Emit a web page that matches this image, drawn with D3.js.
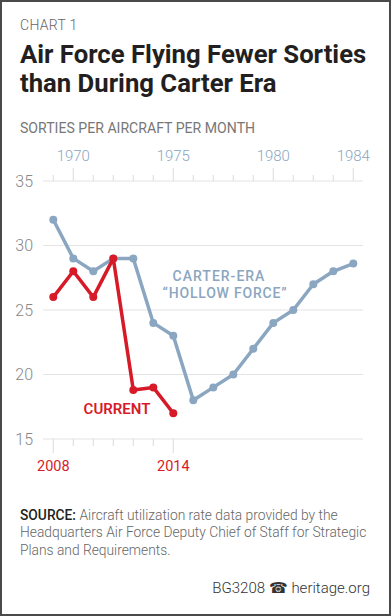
<html>
<head>
<meta charset="utf-8">
<style>
    body { margin: 0; background: #fff; font-family: Roboto, "Open Sans", sans-serif; }
    svg { display: block; }
</style>
</head>
<body>
<svg id="Chart"></svg>
<script src="https://d3js.org/d3.v7.min.js"></script>
<script>
    // values
    let carterYears = [1969, 1970, 1971, 1972, 1973, 1974, 1975, 1976, 1977, 1978, 1979, 1980, 1981, 1982, 1983, 1984];
    let carterValues = [32, 29, 28, 29, 29, 24, 23, 18, 19, 20, 22, 24, 25, 27, 28, 28.6];
    let currentYears = [2008, 2009, 2010, 2011, 2012, 2013, 2014];
    let currentValues = [26, 28, 26, 29, 18.8, 19, 17];
    let yTicks = [15, 20, 25, 30, 35];
    let topLabels = [1970, 1975, 1980, 1984];
    let bottomLabels = [2008, 2014];

    const blue = "#8ba6c0";
    const red = "#d71a28";

    let width = 391, height = 616;
    let svg = d3.select("#Chart").attr("width", width).attr("height", height);

    // frame
    svg.append("rect").attr("x", 1).attr("y", 1).attr("width", width - 2).attr("height", height - 2)
        .attr("fill", "#fff").attr("stroke", "#4a4a4a").attr("stroke-width", 2);

    // headings
    svg.append("text").attr("x", 20).attr("y", 30).text("CHART 1")
        .attr("font-size", 14).attr("font-weight", 300).attr("fill", "#666").attr("letter-spacing", 0.3);
    svg.append("text").attr("x", 20).attr("y", 63).text("Air Force Flying Fewer Sorties")
        .attr("font-size", 25.7).attr("font-weight", 700).attr("fill", "#231f20");
    svg.append("text").attr("x", 20).attr("y", 92).text("than During Carter Era")
        .attr("font-size", 25.7).attr("font-weight", 700).attr("fill", "#231f20");
    svg.append("text").attr("x", 20).attr("y", 133).text("SORTIES PER AIRCRAFT PER MONTH")
        .attr("font-size", 14.1).attr("font-weight", 400).attr("fill", "#777");

    // scales
    let y = d3.scaleLinear().domain([15, 35]).range([439, 181]);
    let xTop = d3.scaleLinear().domain([1969, 1984]).range([53.3, 353.3]);
    let xBottom = d3.scaleLinear().domain([2008, 2023]).range([53.3, 353.3]);
    let gridX = [43, 363];

    // gridlines + y labels
    let grid = svg.append("g");
    grid.selectAll("line").data(yTicks).enter().append("line")
        .attr("x1", gridX[0]).attr("x2", gridX[1])
        .attr("y1", d => y(d)).attr("y2", d => y(d))
        .attr("stroke", "#e4e4e4").attr("stroke-width", 1.2);
    grid.selectAll("text").data(yTicks).enter().append("text")
        .attr("x", 33).attr("y", d => y(d) + 5.5)
        .attr("text-anchor", "end").attr("font-size", 16).attr("font-weight", 300)
        .attr("fill", "#888").text(d => d);

    // top axis (Carter era years)
    let topAxis = svg.append("g");
    topAxis.selectAll("line").data(carterYears).enter().append("line")
        .attr("x1", d => xTop(d)).attr("x2", d => xTop(d))
        .attr("y1", y(35)).attr("y2", d => topLabels.includes(d) ? y(35) - 13 : y(35) - 6)
        .attr("stroke", "#e0e0e0").attr("stroke-width", 1.2);
    topAxis.selectAll("text").data(topLabels).enter().append("text")
        .attr("x", d => xTop(d)).attr("y", 161)
        .attr("text-anchor", "middle").attr("font-size", 15).attr("font-weight", 300)
        .attr("fill", blue).text(d => d);

    // bottom axis (current years)
    let bottomAxis = svg.append("g");
    bottomAxis.selectAll("line").data(currentYears).enter().append("line")
        .attr("x1", d => xBottom(d)).attr("x2", d => xBottom(d))
        .attr("y1", y(15)).attr("y2", d => bottomLabels.includes(d) ? y(15) + 14 : y(15) + 7)
        .attr("stroke", "#e0e0e0").attr("stroke-width", 1.2);
    bottomAxis.selectAll("text").data(bottomLabels).enter().append("text")
        .attr("x", d => xBottom(d)).attr("y", 471)
        .attr("text-anchor", "middle").attr("font-size", 14.5).attr("font-weight", 400)
        .attr("fill", red).text(d => d);

    function drawSeries(years, values, xScale, color) {
        let pts = years.map((yr, i) => [xScale(yr), y(values[i])]);
        let g = svg.append("g");
        g.append("path").attr("d", d3.line()(pts))
            .attr("fill", "none").attr("stroke", color).attr("stroke-width", 3.5)
            .attr("stroke-linejoin", "round");
        g.selectAll("circle").data(pts).enter().append("circle")
            .attr("cx", d => d[0]).attr("cy", d => d[1]).attr("r", 4)
            .attr("fill", color);
    }

    drawSeries(carterYears, carterValues, xTop, blue);
    drawSeries(currentYears, currentValues, xBottom, red);

    // series labels
    svg.append("text").attr("x", 219).attr("y", 281).attr("text-anchor", "middle")
        .attr("font-size", 14).attr("font-weight", 500).attr("letter-spacing", 1)
        .attr("fill", blue).text("CARTER-ERA");
    svg.append("text").attr("x", 225).attr("y", 297.5).attr("text-anchor", "middle")
        .attr("font-size", 14).attr("font-weight", 500).attr("letter-spacing", 0.8)
        .attr("fill", blue).text("\u201CHOLLOW FORCE\u201D");
    svg.append("text").attr("x", 117).attr("y", 413.5).attr("text-anchor", "middle")
        .attr("font-size", 15).attr("font-weight", 600).attr("fill", red).text("CURRENT");

    // source
    let src = svg.append("g").attr("font-size", 13.8).attr("fill", "#666");
    let l1 = src.append("text").attr("x", 20).attr("y", 519.5);
    l1.append("tspan").attr("font-weight", 500).attr("fill", "#231f20").text("SOURCE: ");
    l1.append("tspan").attr("font-weight", 300).text("Aircraft utilization rate data provided by the");
    src.append("text").attr("x", 20).attr("y", 537).attr("font-weight", 300).text("Headquarters Air Force Deputy Chief of Staff for Strategic");
    src.append("text").attr("x", 20).attr("y", 554.5).attr("font-weight", 300).text("Plans and Requirements.");

    svg.append("text").attr("x", 370).attr("y", 593).attr("text-anchor", "end")
        .attr("font-size", 15).attr("font-weight", 300).attr("fill", "#333").text("BG3208 \u260E heritage.org");
</script>
</body>
</html>
